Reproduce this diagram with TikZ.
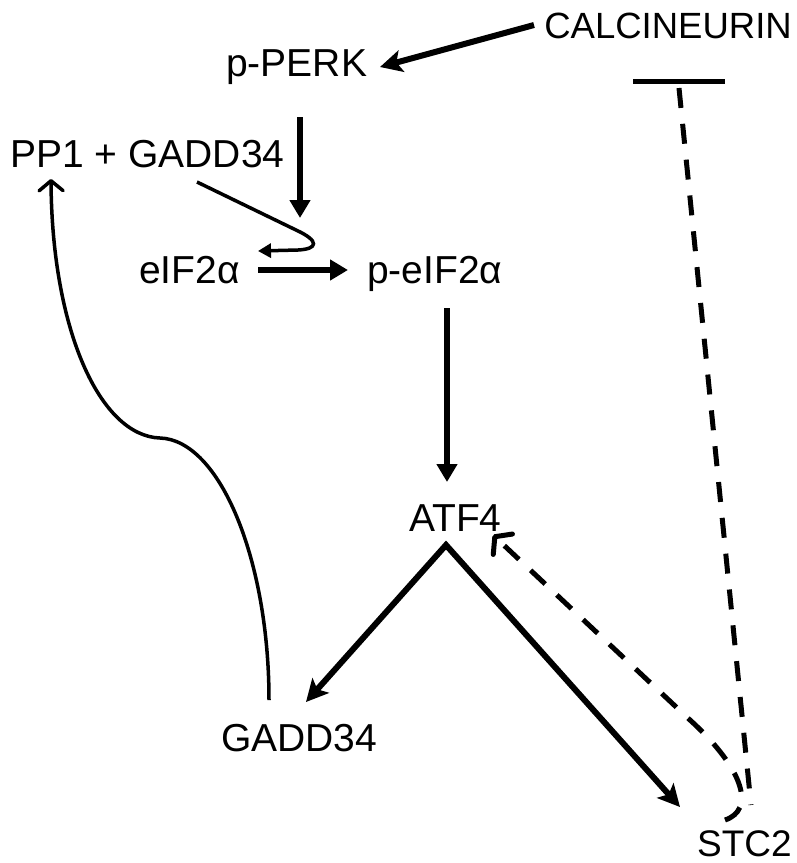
\documentclass[tikz,border=0pt]{standalone}
\usepackage{fontspec}
\setmainfont{Liberation Sans}
\usetikzlibrary{arrows.meta}
\begin{document}
\begin{tikzpicture}[x=1pt,y=-1pt,
  lbl/.style={font=\fontsize{39}{44}\selectfont, inner sep=0pt, anchor=base west},
  bold/.style={line width=6pt},
  tri/.style={-{Triangle[length=18pt,width=20pt]}},
  stl/.style={-{Stealth[length=22pt,width=22pt,inset=5pt]}},
  thin/.style={line width=3.5pt},
  dsh/.style={line width=5pt, dash pattern=on 20pt off 16pt},
  barb/.style={-{Straight Barb[length=11pt,width=28pt,line width=5pt,round]}},
  thinbarb/.style={-{Straight Barb[length=10pt,width=24pt,line width=3.5pt,round]}}]
\useasboundingbox (0,0) rectangle (797,863);

\node[lbl, font=\fontsize{36.5}{44}\selectfont, anchor=base east] (calc) at (792,38) {CALCINEURIN};
\node[lbl] (perk) at (226,76) {p-PERK};
\node[lbl] (pp1)  at (10,167) {PP1 + GADD34};
\node[lbl] (eif)  at (139,283) {eIF2α};
\node[lbl] (peif) at (367,283) {p-eIF2α};
\node[lbl] (atf)  at (409,531) {ATF4};
\node[lbl] (gadd) at (221,751) {GADD34};
\node[lbl, font=\fontsize{37}{44}\selectfont] (stc)  at (697,856) {STC2};

% connector end points
\coordinate (calcW) at (534,25);
\coordinate (perkE) at (380,67);
\coordinate (perkS) at (300,117);
\coordinate (eifN)  at (300,218);
\coordinate (pp1E)  at (197,182);
\coordinate (eifNE) at (258,251);
\coordinate (eifE)  at (258,270);
\coordinate (peifW) at (348,270);
\coordinate (peifS) at (447,308);
\coordinate (atfN)  at (447,482);
\coordinate (apex)  at (446,545);
\coordinate (gaddN) at (306,702);
\coordinate (stcNW) at (680,807);
\coordinate (gaddT) at (269,700);
\coordinate (pp1S)  at (51,179);
\coordinate (stcA)  at (725,820);
\coordinate (atfSE) at (493,535);
\coordinate (stcB)  at (751,805);
\coordinate (calcS) at (679,88);
\coordinate (barL)  at (633,81);
\coordinate (barR)  at (725,81);

\draw[bold,stl] (calcW) -- (perkE);
\draw[bold,tri] (perkS) -- (eifN);
\draw[thin,-{Triangle[length=13pt,width=14pt]}] (pp1E) -- (296,230) .. controls (320,241) and (318,249) .. (298,250) -- (eifNE);
\draw[bold,tri] (eifE) -- (peifW);
\draw[bold,tri] (peifS) -- (atfN);
\draw[bold,miter limit=10,{Stealth[length=22pt,width=22pt,inset=5pt]}-{Stealth[length=22pt,width=22pt,inset=5pt]}] (gaddN) -- (apex) -- (stcNW);
\draw[thin,thinbarb] (gaddT) .. controls (269,560) and (220,440) .. (160,438) .. controls (100,436) and (52,330) .. (pp1S);
\draw[dsh,barb] (stcA) .. controls (755,810) and (745,770) .. (690,720) -- (atfSE);
\draw[dsh] (calcS) -- (stcB);
\draw[line width=5pt] (barL) -- (barR);
\end{tikzpicture}
\end{document}
